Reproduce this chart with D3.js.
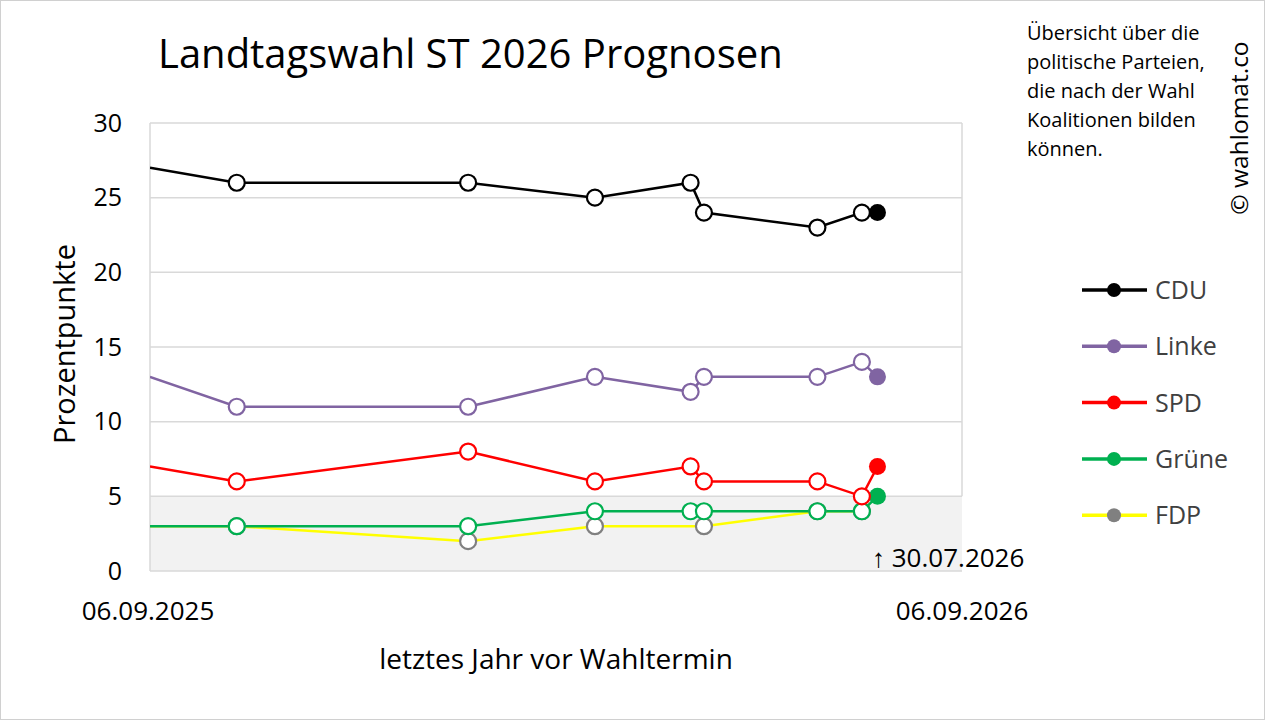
<!DOCTYPE html>
<html><head><meta charset="utf-8">
<script src="https://cdn.jsdelivr.net/npm/d3@7"></script>
<style>body{margin:0;background:#fff}svg{font-family:"Open Sans",sans-serif}</style>
</head><body><svg id="c" width="1265" height="720"></svg>
<script>
const dates=["2025-09-06","2025-10-15","2026-01-27","2026-03-25","2026-05-07","2026-05-13","2026-07-03","2026-07-23"];
const finalDate="2026-07-30";
const CDU=[27,26,26,25,26,24,23,24]; const CDUf=24;
const Linke=[13,11,11,13,12,13,13,14]; const Linkef=13;
const SPD=[7,6,8,6,7,6,6,5]; const SPDf=7;
const Gruene=[3,3,3,4,4,4,4,4]; const Gruenef=5;
const FDP=[3,3,2,3,null,3,4,4];
const yTicks=[0,5,10,15,20,25,30];
const series=[
 {name:"CDU",v:CDU,f:CDUf,c:"#000000",m:"#000000"},
 {name:"Linke",v:Linke,f:Linkef,c:"#8064a2",m:"#8064a2"},
 {name:"SPD",v:SPD,f:SPDf,c:"#ff0000",m:"#ff0000"},
 {name:"Grüne",v:Gruene,f:Gruenef,c:"#00b050",m:"#00b050"},
 {name:"FDP",v:FDP,f:null,c:"#ffff00",m:"#808080"}];
const svg=d3.select("#c");
svg.append("rect").attr("x",0.5).attr("y",0.5).attr("width",1264).attr("height",719).attr("fill","#fff").attr("stroke","#d0d0d0");
const p=d3.timeParse("%Y-%m-%d");
const x=d3.scaleTime().domain([p("2025-09-06"),p("2026-09-06")]).range([150,962]);
const y=d3.scaleLinear().domain([0,30]).range([571,123]);
const defs=svg.append("defs");
defs.append("clipPath").attr("id","cl").append("rect").attr("x",150).attr("y",100).attr("width",812).attr("height",480);
svg.append("rect").attr("x",150).attr("y",y(5)).attr("width",812).attr("height",y(0)-y(5)).attr("fill","#f2f2f2");
yTicks.forEach(t=>{if(t<5)return;svg.append("line").attr("x1",150).attr("x2",962).attr("y1",y(t)).attr("y2",y(t)).attr("stroke","#d9d9d9").attr("stroke-width",1.5);});
svg.append("line").attr("x1",962).attr("x2",962).attr("y1",y(30)).attr("y2",y(5)).attr("stroke","#d9d9d9").attr("stroke-width",1.5);
svg.append("line").attr("x1",150).attr("x2",150).attr("y1",y(30)).attr("y2",y(0)).attr("stroke","#d9d9d9").attr("stroke-width",1.5);
svg.append("line").attr("x1",150).attr("x2",962).attr("y1",y(0)).attr("y2",y(0)).attr("stroke","#d9d9d9").attr("stroke-width",1.5);
const ax=svg.append("g").attr("transform","translate(122,0)").call(d3.axisLeft(y).tickValues(yTicks).tickSize(0).tickPadding(0));
ax.select(".domain").remove();
ax.selectAll("text").attr("font-size",25).attr("fill","#000").attr("font-family","'Open Sans',sans-serif");
const g=svg.append("g").attr("clip-path","url(#cl)");
const order=[4,3,2,1,0];
order.forEach(i=>{const s=series[i];
 const pts=s.v.map((v,j)=>({d:p(dates[j]),v})).filter(o=>o.v!=null);
 if(s.f!=null)pts.push({d:p(finalDate),v:s.f});
 g.append("path").datum(pts).attr("fill","none").attr("stroke",s.c).attr("stroke-width",2.5)
  .attr("d",d3.line().x(o=>x(o.d)).y(o=>y(o.v)));
});
order.forEach(i=>{const s=series[i];
 s.v.forEach((v,j)=>{if(v==null||j==0)return;
  g.append("circle").attr("cx",x(p(dates[j]))).attr("cy",y(v)).attr("r",8).attr("fill","#fff").attr("stroke",s.m).attr("stroke-width",2.2);});
 if(s.f!=null)g.append("circle").attr("cx",x(p(finalDate))).attr("cy",y(s.f)).attr("r",8.5).attr("fill",s.m);
});
const T=(t,xx,yy,fs,anchor)=>svg.append("text").attr("x",xx).attr("y",yy).attr("font-size",fs).attr("text-anchor",anchor||"start").attr("fill","#000").text(t);
T("Landtagswahl ST 2026 Prognosen",158,68,40);
T("06.09.2025",148,620,26,"middle");
T("06.09.2026",962,620,26,"middle");
T("↑ 30.07.2026",872,567,26);
T("letztes Jahr vor Wahltermin",556,669,28,"middle");
svg.append("text").attr("transform","translate(75,344) rotate(-90)").attr("text-anchor","middle").attr("font-size",29).text("Prozentpunkte");
["Übersicht über die","politische Parteien,","die nach der Wahl","Koalitionen bilden","können."].forEach((t,k)=>T(t,1027,40+k*29,20));
svg.append("text").attr("transform","translate(1248,128) rotate(-90)").attr("text-anchor","middle").attr("font-size",24.5).text("© wahlomat.co");
series.forEach((s,k)=>{const yy=290+k*56.3;
 svg.append("line").attr("x1",1082).attr("x2",1147).attr("y1",yy).attr("y2",yy).attr("stroke",s.c).attr("stroke-width",3.5);
 svg.append("circle").attr("cx",1114).attr("cy",yy).attr("r",7).attr("fill",s.m);
 T(s.name,1155,yy+9,25).attr("fill","#404040");
});
</script></body></html>
